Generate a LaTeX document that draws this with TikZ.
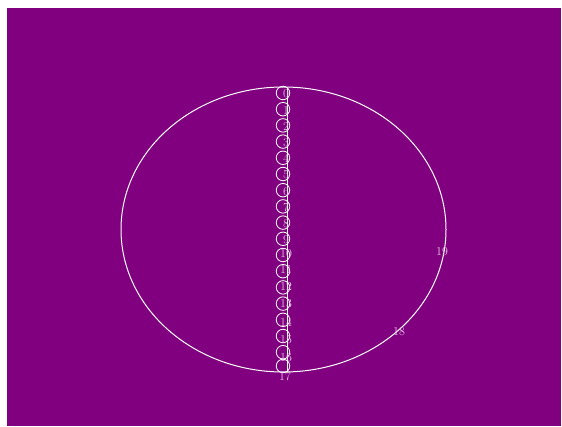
\documentclass[tikz,border=0pt]{standalone}
\usepackage{xcolor}
\usepackage{tikz}
\usetikzlibrary{shapes.geometric,positioning}
\definecolor{bgpurple}{HTML}{800080}
\definecolor{lablilac}{HTML}{E6C6E6}
\tikzset{
  ring/.style={ellipse, draw=white, line width=1pt, minimum width=325pt, minimum height=285pt, inner sep=0pt},
  loopc/.style={circle, draw=white, line width=0.8pt, minimum size=13.5pt, inner sep=0pt},
  lab/.style={text=lablilac, font=\fontsize{12}{12}\selectfont, inner sep=0pt},
  spine/.style={draw=white, line width=0.7pt},
}

\begin{document}
\begin{tikzpicture}[x=1pt, y=-1pt]
\useasboundingbox (0,0) rectangle (562,427);
\fill[white] (0,0) rectangle (562,427);
\fill[bgpurple] (7,8) rectangle (561,426);
\node[ring] (rim) at (283.5,229.5) {};
\coordinate (top) at (287,88);
\coordinate (bot) at (287,372);
\draw[spine] (top) -- (bot);
\node[loopc] (c0) at (283,93) {};
\node[loopc] (c1) at (283,109.2) {};
\node[loopc] (c2) at (283,125.4) {};
\node[loopc] (c3) at (283,141.6) {};
\node[loopc] (c4) at (283,157.8) {};
\node[loopc] (c5) at (283,174) {};
\node[loopc] (c6) at (283,190.2) {};
\node[loopc] (c7) at (283,206.4) {};
\node[loopc] (c8) at (283,222.6) {};
\node[loopc] (c9) at (283,238.8) {};
\node[loopc] (c10) at (283,255) {};
\node[loopc] (c11) at (283,271.2) {};
\node[loopc] (c12) at (283,287.4) {};
\node[loopc] (c13) at (283,303.6) {};
\node[loopc] (c14) at (283,319.8) {};
\node[loopc] (c15) at (283,336) {};
\node[loopc] (c16) at (283,352.2) {};
\node[loopc] (c17) at (283,366) {};
\node[lab] (n0) at (286,94) {0};
\node[lab] (n1) at (286,110.2) {1};
\node[lab] (n2) at (286,126.4) {2};
\node[lab] (n3) at (286,142.6) {3};
\node[lab] (n4) at (286,158.8) {4};
\node[lab] (n5) at (286,175) {5};
\node[lab] (n6) at (286,191.2) {6};
\node[lab] (n7) at (286,207.4) {7};
\node[lab] (n8) at (286,223.6) {8};
\node[lab] (n9) at (286,239.8) {9};
\node[lab] (n10) at (286,254) {10};
\node[lab] (n11) at (286,270) {11};
\node[lab] (n12) at (286,287) {12};
\node[lab] (n13) at (286,304) {13};
\node[lab] (n14) at (286,322) {14};
\node[lab] (n15) at (286,340) {15};
\node[lab] (n16) at (286,358) {16};
\node[lab] (n17) at (285,377) {17};
\node[lab] (n18) at (399,332) {18};
\node[lab] (n19) at (442,252) {19};
\end{tikzpicture}
\end{document}
